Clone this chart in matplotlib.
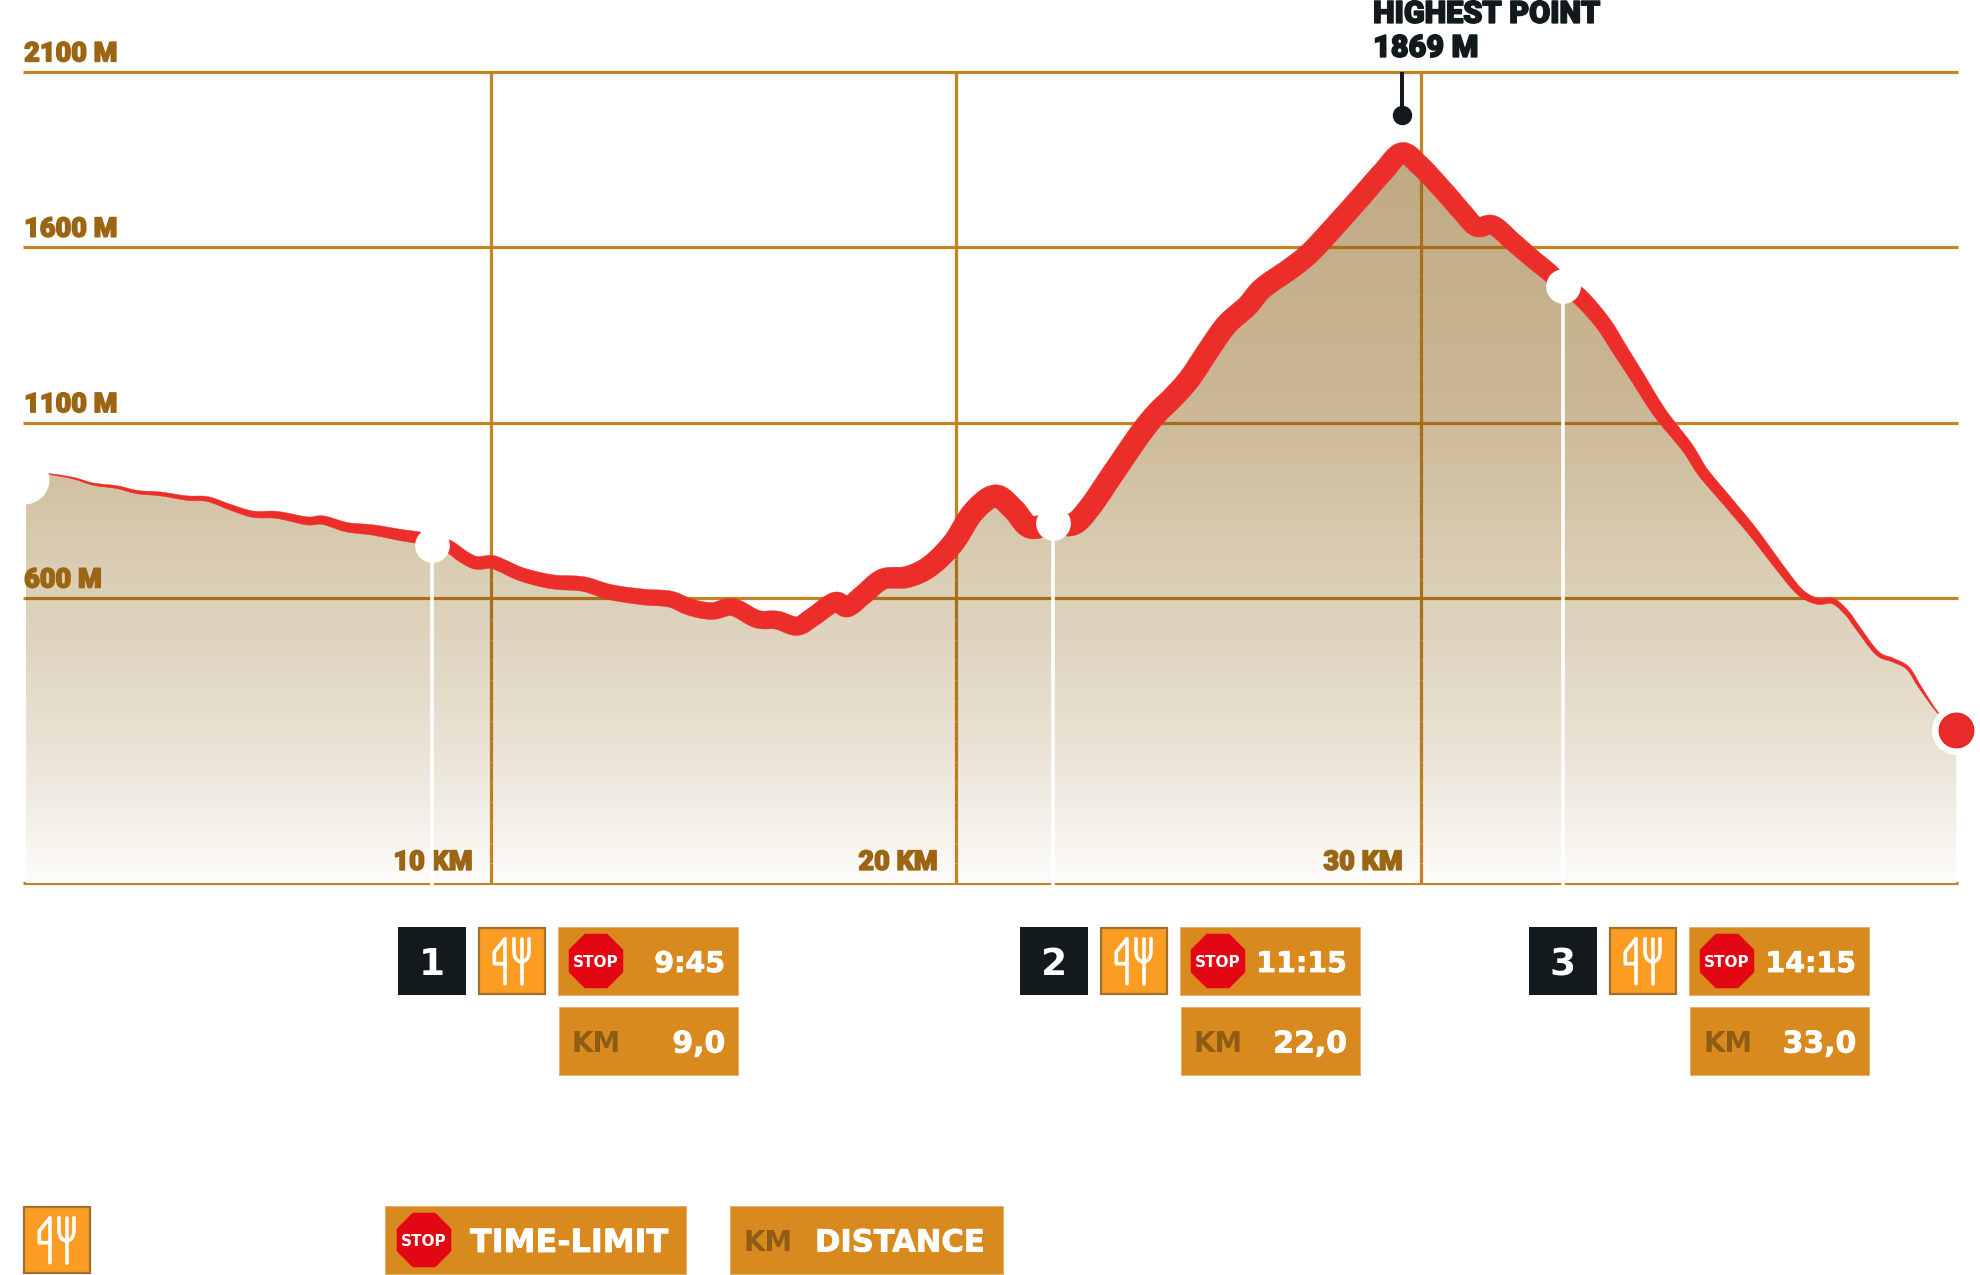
import numpy as np
import matplotlib
matplotlib.use("Agg")
import matplotlib.pyplot as plt
import matplotlib.patheffects as pe
from matplotlib.colors import LinearSegmentedColormap, to_hex
from matplotlib.patches import Polygon, RegularPolygon, Rectangle
from matplotlib.path import Path
from matplotlib.patches import PathPatch

## data
distance_km = [0.00, 0.47, 1.01, 1.44, 1.96, 2.39, 2.88, 3.46, 3.91, 4.39, 4.88, 5.40, 6.04, 6.39, 6.90,
               7.46, 8.04, 8.47, 8.73, 9.08, 9.38, 9.61, 9.76, 10.02, 10.26, 10.69, 11.33, 11.98, 12.56,
               13.27, 13.85, 14.28, 14.75, 15.20, 15.72, 16.15, 16.58, 16.92, 17.40, 17.66, 18.00, 18.43,
               18.95, 19.44, 19.94, 20.37, 20.84, 21.23, 21.59, 22.09, 22.52, 22.88, 23.38, 23.96, 24.32,
               24.65, 25.03, 25.46, 25.83, 26.26, 26.60, 27.18, 27.61, 28.11, 28.69, 29.18, 29.59, 29.98,
               30.41, 30.62, 30.90, 31.20, 31.55, 31.98, 32.41, 32.77, 33.05, 33.42, 33.91, 34.28, 34.65,
               35.14, 35.72, 36.06, 36.58, 37.14, 37.72, 38.15, 38.52, 38.86, 39.16, 39.38, 39.81, 40.15,
               40.47, 40.73, 41.12, 41.51]
elevation_m = [959, 954, 942, 925, 916, 902, 897, 885, 882, 859, 839, 837, 820, 822, 802,
               794, 780, 771, 760, 748, 720, 703, 700, 703, 691, 666, 646, 640, 617,
               603, 597, 574, 563, 574, 540, 537, 520, 546, 589, 574, 609, 654,
               660, 691, 757, 845, 891, 854, 802, 814, 811, 859, 956, 1068, 1127,
               1170, 1227, 1313, 1381, 1432, 1484, 1538, 1584, 1655, 1741, 1815, 1869, 1832,
               1772, 1741, 1698, 1658, 1663, 1615, 1566, 1527, 1490, 1458, 1384, 1307, 1230,
               1127, 1030, 959, 877, 788, 686, 617, 591, 591, 557, 517, 443, 423,
               400, 346, 272, 224]

elev_ticks = [2100, 1600, 1100, 600]
elev_labels = ["2100 M", "1600 M", "1100 M", "600 M"]
km_ticks = [10, 20, 30]
km_labels = ["10 KM", "20 KM", "30 KM"]

station_names = ["1", "2", "3"]
station_km = [8.73, 22.09, 33.05]
station_m = [751, 814, 1490]
station_limit = ["9:45", "11:15", "14:15"]
station_dist = ["9,0", "22,0", "33,0"]
station_left = [398, 1020, 1529]

# stroke width of the red line along the course, px
width_km = [0, 0.5, 2, 4, 6, 8.5, 10, 13, 16, 19, 21, 24, 29.6, 33, 35, 36, 37, 38, 38.7, 39.4, 40.1, 40.7, 41.12, 41.51]
width_px = [0.5, 1, 3, 5, 8, 12, 13, 15.5, 18, 21.5, 22.5, 22.5, 21, 18, 13.5, 11, 10, 7.5, 5.7, 4.5, 4, 3, 1, 0.5]

BASE_M = -213
GRID = "#c58423"
GRID_DARK = "#a96f18"
LABEL = "#9c6514"
BLACK = "#121a1e"
RED = "#ec2e2b"
BOX = "#d98a1f"
FORK = "#fb9d22"
KM_TXT = "#8f5c14"
HEAVY = "Roboto"
BOLD = "DejaVu Sans"


def smooth(px, py, n=10):
    # catmull-rom through the read points, only to draw a round line
    P = np.column_stack([px, py])
    P = np.vstack([P[0], P, P[-1]])
    out = []
    t = np.linspace(0, 1, n, endpoint=False)[:, None]
    for i in range(1, len(P) - 2):
        a, b, c, d = P[i - 1], P[i], P[i + 1], P[i + 2]
        out.append(0.5 * (2 * b + (c - a) * t + (2 * a - 5 * b + 4 * c - d) * t ** 2 + (3 * b - a - 3 * c + d) * t ** 3))
    out.append(P[-2][None, :])
    return np.vstack(out)


def fat(color, lw):
    # the source font is heavier than anything installed
    return [pe.withStroke(linewidth=lw, foreground=color)]


def fork_icon(ax, x, y, ec):
    ax.add_patch(Rectangle((x + 1, y + 1), 66, 66, fc=FORK, ec=ec, lw=1.6, zorder=5))
    verts = [(27, 56.7), (27, 11.7), (16.3, 25), (16.3, 36.7), (27, 36.7)]
    ax.plot([x + v[0] for v in verts], [y + v[1] for v in verts], color="white", lw=2.6, solid_joinstyle="round", solid_capstyle="round", zorder=6)
    ax.plot([x + 43.5, x + 43.5], [y + 11.7, y + 56.7], color="white", lw=2.6, solid_capstyle="round", zorder=6)
    codes = [Path.MOVETO, Path.LINETO, Path.CURVE3, Path.CURVE3, Path.CURVE3, Path.CURVE3, Path.LINETO]
    fork = Path([(x + 36, y + 11.7), (x + 36, y + 24), (x + 36, y + 34), (x + 43.5, y + 35),
                 (x + 51, y + 34), (x + 51, y + 24), (x + 51, y + 11.7)], codes)
    ax.add_patch(PathPatch(fork, fc="none", ec="white", lw=2.6, capstyle="round", zorder=6))


def stop_sign(ax, x, y):
    ax.add_patch(RegularPolygon((x, y), 8, radius=29.5, orientation=np.pi / 8, fc="#e30613", ec="none", zorder=6))
    ax.text(x, y, "STOP", color="white", fontsize=11, family=BOLD, weight="bold", ha="center", va="center_baseline", zorder=7)


fig = plt.figure(figsize=(19.8, 12.75), dpi=100)
ax = fig.add_axes([0, 0, 1, 1])
ax.set_axis_off()
xlim = (-0.559, 42.02)
ylim = (-1330, 2305)

x_left, x_right = -0.06, 41.55
ax.set_xlim(xlim)
ax.set_ylim(ylim)

# profile in pixels, smoothed for drawing
pts = ax.transData.transform(np.column_stack([distance_km, elevation_m]))
line = smooth(pts[:, 0], pts[:, 1])
line_data = ax.transData.inverted().transform(line)

## grid
for e in elev_ticks + [BASE_M]:
    ax.plot([x_left, x_right], [e, e], color=GRID, lw=2.3, solid_capstyle="butt", zorder=1)
for k in km_ticks:
    ax.plot([k, k], [BASE_M, elev_ticks[0]], color=GRID, lw=2.3, solid_capstyle="butt", zorder=1)

## gradient area
outline = np.vstack([[distance_km[0], BASE_M], line_data, [distance_km[-1], BASE_M]])
area = Polygon(outline, closed=True, fc="none", ec="none", transform=ax.transData)
ax.add_patch(area)
fade = LinearSegmentedColormap.from_list("fade", [(0.0, "#c0aa83"), (0.33, "#cbb694"), (0.55, "#d9ccb1"),
                                                 (0.68, "#e0d5c1"), (0.83, "#ebe4d7"), (1.0, "#fdfcfa")])
img = ax.imshow(np.linspace(0, 1, 256)[:, None], cmap=fade, aspect="auto", zorder=2,
                extent=(distance_km[0], distance_km[-1], BASE_M, max(elevation_m)), origin="upper", interpolation="bilinear")
img.set_clip_path(area)
ax.set_xlim(xlim)
ax.set_ylim(ylim)

# grid again, darker where it crosses the area, paling towards the base
shade = LinearSegmentedColormap.from_list("shade", [GRID_DARK, GRID])
for e in elev_ticks:
    g, = ax.plot([x_left, x_right], [e, e], color=GRID_DARK, lw=2.3, solid_capstyle="butt", zorder=3)
    g.set_clip_path(area)
steps = np.linspace(BASE_M, elev_ticks[0], 41)
for k in km_ticks:
    for lo, hi in zip(steps[:-1], steps[1:]):
        c = shade(float(np.clip((550 - lo) / (550 - BASE_M), 0, 1)))
        g, = ax.plot([k, k], [lo, hi], color=to_hex(c), lw=2.3, solid_capstyle="butt", zorder=3)
        g.set_clip_path(area)

## labels
for e, lab in zip(elev_ticks, elev_labels):
    ax.text(x_left + 0.02, e + 30, lab, color=LABEL, fontsize=19.5, family=HEAVY, weight=900, ha="left", va="baseline", zorder=4,
            path_effects=fat(LABEL, 1.1))
for k, lab in zip(km_ticks, km_labels):
    ax.text(k - 0.39, -175, lab, color=LABEL, fontsize=19.5, family=HEAVY, weight=900, ha="right", va="baseline", zorder=4,
            path_effects=fat(LABEL, 1.1))

## red line with changing width
w = np.interp(line_data[:, 0], width_km, width_px)
d = np.gradient(line, axis=0)
d = d / np.maximum(np.hypot(d[:, 0], d[:, 1])[:, None], 1e-6)
normal = np.column_stack([-d[:, 1], d[:, 0]])
upper = line + normal * w[:, None] / 2
lower = line - normal * w[:, None] / 2
band = ax.transData.inverted().transform(np.vstack([upper, lower[::-1]]))
ax.add_patch(Polygon(band, closed=True, fc=RED, ec=RED, lw=0.3, zorder=5))

## stations
for k, m in zip(station_km, station_m):
    ax.plot([k, k], [BASE_M - 8, m], color="white", lw=2.6, solid_capstyle="butt", zorder=6)
    ax.plot(k, m, "o", ms=24, mfc="white", mec="white", zorder=7)

ax.plot(distance_km[0] - 0.04, 939, "o", ms=35, mfc="white", mec="white", zorder=6)
ax.plot(distance_km[-1], elevation_m[-1], "o", ms=34.5, mfc="white", mec="white", zorder=6)
ax.plot(distance_km[-1], elevation_m[-1], "o", ms=25, mfc="#ea2a29", mec="#e2201f", mew=0.8, zorder=7)

## highest point
peak = int(np.argmax(elevation_m))
ax.plot([distance_km[peak]] * 2, [1977, elev_ticks[0]], color=BLACK, lw=2.9, solid_capstyle="butt", zorder=6)
ax.plot(distance_km[peak], 1977, "o", ms=13, mfc=BLACK, mec=BLACK, zorder=6)
ax.text(distance_km[peak] - 0.62, 2240, "HIGHEST POINT", color=BLACK, fontsize=22, family=HEAVY, weight=900, ha="left", va="baseline", zorder=6,
        path_effects=fat(BLACK, 1.2))
ax.text(distance_km[peak] - 0.62, 2143, "1869 M", color=BLACK, fontsize=22, family=HEAVY, weight=900, ha="left", va="baseline", zorder=6,
        path_effects=fat(BLACK, 1.2))

## boxes under the chart, plain pixel coordinates
ov = fig.add_axes([0, 0, 1, 1])
ov.set_axis_off()
ov.patch.set_alpha(0)
ov.set_xlim(0, 1980)
ov.set_ylim(1275, 0)

for name, limit, dist, x0 in zip(station_names, station_limit, station_dist, station_left):
    ov.add_patch(Rectangle((x0, 927), 68, 68, fc=BLACK, ec="none", zorder=5))
    ov.text(x0 + 34, 961, name, color="white", fontsize=27, family=BOLD, weight="bold", ha="center", va="center_baseline", zorder=6)
    fork_icon(ov, x0 + 80, 927, "#a07030")
    ov.add_patch(Rectangle((x0 + 160, 927), 180, 68, fc=BOX, ec="#e6b06a", lw=0.7, zorder=5))
    stop_sign(ov, x0 + 198, 961)
    ov.text(x0 + 327, 961, limit, color="white", fontsize=20.5, family=BOLD, weight="bold", ha="right", va="center_baseline", zorder=6,
            path_effects=fat("white", 0.6))
    ov.add_patch(Rectangle((x0 + 161, 1007), 179, 68, fc=BOX, ec="#e6b06a", lw=0.7, zorder=5))
    ov.text(x0 + 174, 1041, "KM", color=KM_TXT, fontsize=20, family=BOLD, weight="bold", ha="left", va="center_baseline", zorder=6)
    ov.text(x0 + 327, 1041, dist, color="white", fontsize=21.5, family=BOLD, weight="bold", ha="right", va="center_baseline", zorder=6,
            path_effects=fat("white", 0.6))

## legend
fork_icon(ov, 23, 1206, "#a07030")
ov.add_patch(Rectangle((385, 1206), 301, 68, fc=BOX, ec="#e6b06a", lw=0.7, zorder=5))
stop_sign(ov, 424, 1240)
ov.text(470, 1240, "TIME-LIMIT", color="white", fontsize=23, family=BOLD, weight="bold", ha="left", va="center_baseline", zorder=6,
        path_effects=fat("white", 0.6))
ov.add_patch(Rectangle((730, 1206), 273, 68, fc=BOX, ec="#e6b06a", lw=0.7, zorder=5))
ov.text(743, 1240, "KM", color=KM_TXT, fontsize=20, family=BOLD, weight="bold", ha="left", va="center_baseline", zorder=6)
ov.text(815, 1240, "DISTANCE", color="white", fontsize=22, family=BOLD, weight="bold", ha="left", va="center_baseline", zorder=6,
        path_effects=fat("white", 0.6))

fig.savefig("out.png", dpi=100)
